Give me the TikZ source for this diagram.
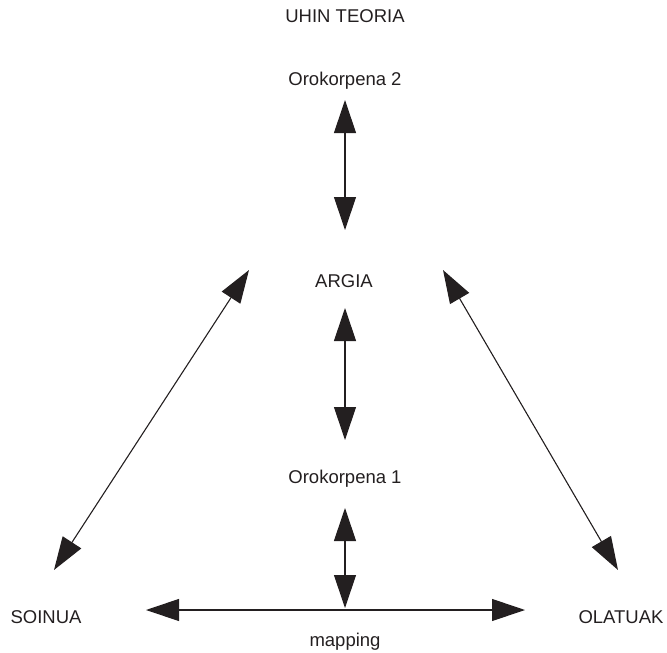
\documentclass[tikz,border=0pt]{standalone}
\usepackage{fontspec}
\setmainfont{Liberation Sans}
\usetikzlibrary{arrows.meta}
\definecolor{ink}{HTML}{231F20}
\begin{document}
\begin{tikzpicture}[x=1pt,y=-1pt,
  lbl/.style={anchor=base,inner sep=0pt,text=ink,font=\fontsize{18.5}{20}\selectfont},
  dbl/.style={draw=ink,line width=1.1pt,{Triangle[length=33pt,width=22pt]}-{Triangle[length=33pt,width=22pt]}}]
\useasboundingbox (0,0) rectangle (667,653);
\node[lbl] (title) at (345,22) {UHIN TEORIA};
\node[lbl] (oro2) at (345,85) {Orokorpena 2};
\node[lbl] (argia) at (344,287) {ARGIA};
\node[lbl] (oro1) at (345,483) {Orokorpena 1};
\node[lbl] (soinua) at (46,623) {SOINUA};
\node[lbl] (olatuak) at (621,623) {OLATUAK};
\node[lbl] (mapping) at (345,646) {mapping};
\coordinate (a1t) at (345,100);
\coordinate (a1b) at (345,230);
\coordinate (a2t) at (345,308);
\coordinate (a2b) at (345,440);
\coordinate (a3t) at (345,508);
\coordinate (a3b) at (345,608);
\coordinate (hl) at (146,610);
\coordinate (hr) at (525,610);
\coordinate (lt) at (249,270);
\coordinate (lb) at (54,570);
\coordinate (rt) at (443,270);
\coordinate (rb) at (618,570);
\draw[dbl] (a1t) -- (a1b);
\draw[dbl] (a2t) -- (a2b);
\draw[dbl] (a3t) -- (a3b);
\draw[dbl] (hl) -- (hr);
\draw[dbl] (lt) -- (lb);
\draw[dbl] (rt) -- (rb);
\end{tikzpicture}
\end{document}
